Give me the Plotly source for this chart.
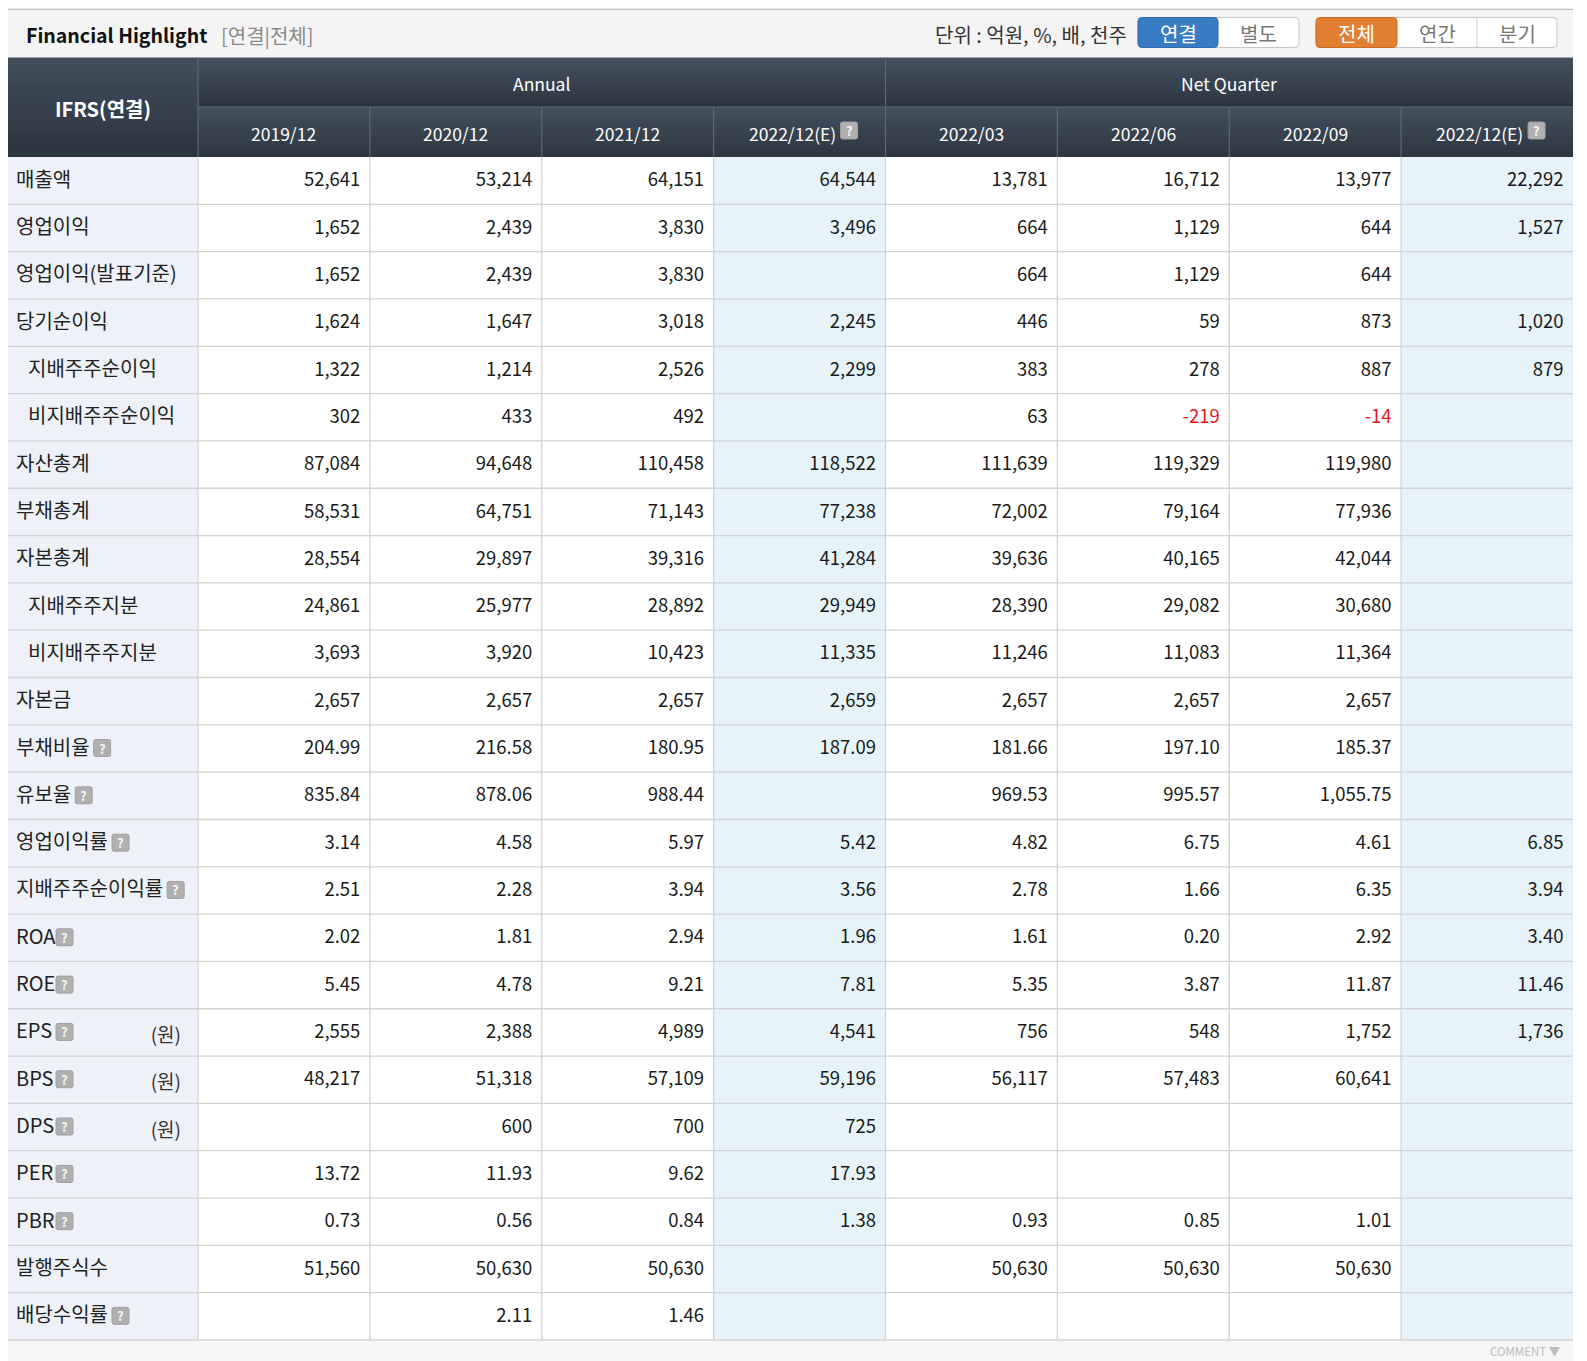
import plotly.graph_objects as go

# 표 데이터 (단위: 억원, %, 배, 천주)
periods = ["2019/12", "2020/12", "2021/12", "2022/12(E)",
           "2022/03", "2022/06", "2022/09", "2022/12(E)"]
period_groups = ["Annual", "Net Quarter"]

row_labels = ["매출액", "영업이익", "영업이익(발표기준)", "당기순이익", "지배주주순이익",
              "비지배주주순이익", "자산총계", "부채총계", "자본총계", "지배주주지분",
              "비지배주주지분", "자본금", "부채비율", "유보율", "영업이익률",
              "지배주주순이익률", "ROA", "ROE", "EPS", "BPS", "DPS", "PER", "PBR",
              "발행주식수", "배당수익률"]
row_decimals = [0, 0, 0, 0, 0, 0, 0, 0, 0, 0, 0, 0, 2, 2, 2, 2, 2, 2, 0, 0, 0, 2, 2, 0, 2]
sub_rows = ["지배주주순이익", "비지배주주순이익", "지배주주지분", "비지배주주지분"]
help_rows = ["부채비율", "유보율", "영업이익률", "지배주주순이익률", "ROA", "ROE",
             "EPS", "BPS", "DPS", "PER", "PBR", "배당수익률"]
won_rows = ["EPS", "BPS", "DPS"]

a2019_12 = [52641, 1652, 1652, 1624, 1322, 302, 87084, 58531, 28554, 24861, 3693, 2657,
            204.99, 835.84, 3.14, 2.51, 2.02, 5.45, 2555, 48217, None, 13.72, 0.73, 51560, None]
a2020_12 = [53214, 2439, 2439, 1647, 1214, 433, 94648, 64751, 29897, 25977, 3920, 2657,
            216.58, 878.06, 4.58, 2.28, 1.81, 4.78, 2388, 51318, 600, 11.93, 0.56, 50630, 2.11]
a2021_12 = [64151, 3830, 3830, 3018, 2526, 492, 110458, 71143, 39316, 28892, 10423, 2657,
            180.95, 988.44, 5.97, 3.94, 2.94, 9.21, 4989, 57109, 700, 9.62, 0.84, 50630, 1.46]
a2022_12e = [64544, 3496, None, 2245, 2299, None, 118522, 77238, 41284, 29949, 11335, 2659,
             187.09, None, 5.42, 3.56, 1.96, 7.81, 4541, 59196, 725, 17.93, 1.38, None, None]
q2022_03 = [13781, 664, 664, 446, 383, 63, 111639, 72002, 39636, 28390, 11246, 2657,
            181.66, 969.53, 4.82, 2.78, 1.61, 5.35, 756, 56117, None, None, 0.93, 50630, None]
q2022_06 = [16712, 1129, 1129, 59, 278, -219, 119329, 79164, 40165, 29082, 11083, 2657,
            197.10, 995.57, 6.75, 1.66, 0.20, 3.87, 548, 57483, None, None, 0.85, 50630, None]
q2022_09 = [13977, 644, 644, 873, 887, -14, 119980, 77936, 42044, 30680, 11364, 2657,
            185.37, 1055.75, 4.61, 6.35, 2.92, 11.87, 1752, 60641, None, None, 1.01, 50630, None]
q2022_12e = [22292, 1527, None, 1020, 879, None, None, None, None, None, None, None,
             None, None, 6.85, 3.94, 3.40, 11.46, 1736, None, None, None, None, None, None]
columns = [a2019_12, a2020_12, a2021_12, a2022_12e, q2022_03, q2022_06, q2022_09, q2022_12e]
estimate_cols = [3, 7]

# 레이아웃 (페이지 픽셀 좌표, body margin 8px 보정)
W, H = 1587, 1361
PAD = 8
FONT = "Noto Sans CJK KR, Noto Sans, sans-serif"
left, right = 7, 1573
label_right = 198
col_w = (right - label_right) / len(periods)
head_top, head_mid, head_bot = 57.5, 107, 157
row_h = 47.32
body_bot = head_bot + row_h * len(row_labels)
LABEL_SIZE = 20

shapes, annos = [], []


def rect(x0, y0, x1, y1, fill, line=None, lw=0):
    shapes.append(dict(type="rect", xref="x", yref="y", x0=x0, y0=y0, x1=x1, y1=y1,
                       fillcolor=fill, line=dict(color=line or fill, width=lw), layer="below"))


def hline(y, x0, x1, color, w=1):
    shapes.append(dict(type="line", xref="x", yref="y", x0=x0, x1=x1, y0=y, y1=y,
                       line=dict(color=color, width=w)))


def vline(x, y0, y1, color, w=1):
    shapes.append(dict(type="line", xref="x", yref="y", x0=x, x1=x, y0=y0, y1=y1,
                       line=dict(color=color, width=w)))


def rounded(x0, y0, x1, y1, r, fill, line, lw=1):
    p = (f"M{x0+r},{y0} L{x1-r},{y0} Q{x1},{y0} {x1},{y0+r} L{x1},{y1-r} Q{x1},{y1} {x1-r},{y1} "
         f"L{x0+r},{y1} Q{x0},{y1} {x0},{y1-r} L{x0},{y0+r} Q{x0},{y0} {x0+r},{y0} Z")
    shapes.append(dict(type="path", xref="x", yref="y", path=p, fillcolor=fill,
                       line=dict(color=line, width=lw)))


def gradient(x0, y0, x1, y1, c_top, c_bot, n=12):
    for k in range(n):
        t = k / (n - 1)
        c = tuple(round(a + (b - a) * t) for a, b in zip(c_top, c_bot))
        ya = y0 + (y1 - y0) * k / n
        yb = y0 + (y1 - y0) * (k + 1) / n + (1.5 if k < n - 1 else 0)
        rect(x0, ya, x1, yb, "rgb(%d,%d,%d)" % c)


def text(x, y, s, size=17, color="#222", xanchor="center", bold=False, yshift=0):
    annos.append(dict(x=x, y=y, xref="x", yref="y", text=f"<b>{s}</b>" if bold else s,
                      showarrow=False, xanchor=xanchor, yanchor="middle", yshift=yshift,
                      font=dict(family=FONT, size=size, color=color)))


def help_icon(x, yc):
    rounded(x, yc - 8.5, x + 17, yc + 8.5, 2, "#b0b0b0", "#a0a0a0")
    text(x + 8.5, yc, "?", size=13, color="#f4f4f4", bold=True)


def label_width(s, size=LABEL_SIZE):
    w = 0
    for ch in s:
        if "\uac00" <= ch <= "\ud7a3":
            w += size * 0.92
        elif ch in "()":
            w += size * 0.33
        else:
            w += size * 0.6
    return w


# 상단 타이틀 바
hline(9.3, left, right, "#bdbdbd", 1.2)
rect(left, 10, right, head_top, "#f4f4f4")
text(24, 34, "Financial Highlight", size=19.5, color="#111", xanchor="left", bold=True)
text(219, 35, "[연결|전체]", size=20, color="#8a8a8a", xanchor="left")
text(1129, 34, "단위 : 억원, %, 배, 천주", size=20, color="#333", xanchor="right")

rounded(1138, 17.5, 1299, 47.5, 4, "#ffffff", "#c6c6c6")
rounded(1138, 17.5, 1218, 47.5, 4, "#3a7cc3", "#2f6aac")
text(1178, 33, "연결", size=20, color="#ffffff")
text(1258.5, 33, "별도", size=20, color="#777")
rounded(1316, 17.5, 1557, 47.5, 4, "#ffffff", "#c6c6c6")
rounded(1316, 17.5, 1397, 47.5, 4, "#e17f33", "#c96c22")
vline(1477, 18, 47, "#d2d2d2")
text(1356.5, 33, "전체", size=20, color="#ffffff")
text(1437, 33, "연간", size=20, color="#777")
text(1517, 33, "분기", size=20, color="#777")

# 헤더
gradient(left, head_top, label_right, head_bot, (64, 77, 91), (43, 53, 64))
gradient(label_right, head_top, right, head_mid, (66, 79, 93), (45, 55, 66))
gradient(label_right, head_mid, right, head_bot, (66, 79, 93), (45, 55, 66))
hline(head_mid, label_right, right, "#5c6874", 1.2)
vline(label_right, head_top, head_bot, "#5c6874", 1.2)
for j in range(1, len(periods)):
    x = label_right + j * col_w
    vline(x, head_top if j == 4 else head_mid, head_bot, "#5c6874", 1.2)
text((left + label_right) / 2, (head_top + head_bot) / 2 + 1, "IFRS(연결)", size=20,
     color="#ffffff", bold=True)
for g, name in enumerate(period_groups):
    text(label_right + col_w * (4 * g + 2), (head_top + head_mid) / 2 + 1.5, name, size=17.5,
         color="#ffffff")
for j, p in enumerate(periods):
    cx = label_right + (j + 0.5) * col_w
    cy = (head_mid + head_bot) / 2 + 1.5
    if j in estimate_cols:
        text(cx + 38, cy, p, size=17.5, color="#ffffff", xanchor="right")
        help_icon(cx + 41, cy - 3)
    else:
        text(cx, cy, p, size=17.5, color="#ffffff")

# 본문 배경 및 격자
rect(left, head_bot, label_right, body_bot, "#eef2f8")
for j in estimate_cols:
    rect(label_right + j * col_w, head_bot, label_right + (j + 1) * col_w, body_bot, "#e6f4fa")
for i in range(1, len(row_labels) + 1):
    hline(head_bot + i * row_h, left, right, "#d3d3d3", 1.3)
for j in range(len(periods)):
    vline(label_right + j * col_w, head_bot, body_bot, "#d3d3d3", 1.3)

# 하단 코멘트 바
rect(left, body_bot + 0.7, right, H, "#f6f6f6")
text(1563, 1351, "COMMENT ▼", size=11.5, color="#bdbdbd", xanchor="right")

row_y = [head_bot + (i + 0.5) * row_h + 1 for i in range(len(row_labels))]

fig = go.Figure()

# 항목명
label_x = [28 if s in sub_rows else 16 for s in row_labels]
fig.add_trace(go.Scatter(x=label_x, y=row_y, text=row_labels, mode="text",
                         textposition="middle right", hoverinfo="skip",
                         textfont=dict(family=FONT, size=LABEL_SIZE, color="#222")))
for s, lx, y in zip(row_labels, label_x, row_y):
    if s in help_rows:
        help_icon(lx + label_width(s) + 4, y - 1.5)
won_y = [y + 4 for s, y in zip(row_labels, row_y) if s in won_rows]
fig.add_trace(go.Scatter(x=[181] * len(won_y), y=won_y, text=["(원)"] * len(won_y),
                         mode="text", textposition="middle left", hoverinfo="skip",
                         textfont=dict(family=FONT, size=19, color="#333")))


def fmt(v, d):
    if v is None:
        return ""
    return f"{v:,.{d}f}"


# 값
for j, col in enumerate(columns):
    xr = label_right + (j + 1) * col_w - 9.5
    fig.add_trace(go.Scatter(
        x=[xr] * len(col), y=row_y,
        text=[fmt(v, d) for v, d in zip(col, row_decimals)],
        mode="text", textposition="middle left", hoverinfo="skip",
        textfont=dict(family=FONT, size=18.5,
                      color=["#e8141c" if (v is not None and v < 0) else "#1a1a1a" for v in col])))

fig.update_layout(
    width=W - PAD, height=H - PAD, margin=dict(l=0, r=0, t=0, b=0),
    paper_bgcolor="#ffffff", plot_bgcolor="#ffffff", showlegend=False,
    xaxis=dict(range=[PAD, W], visible=False, fixedrange=True),
    yaxis=dict(range=[H, PAD], visible=False, fixedrange=True),
    shapes=shapes, annotations=annos,
)

fig.write_html("out.html")
